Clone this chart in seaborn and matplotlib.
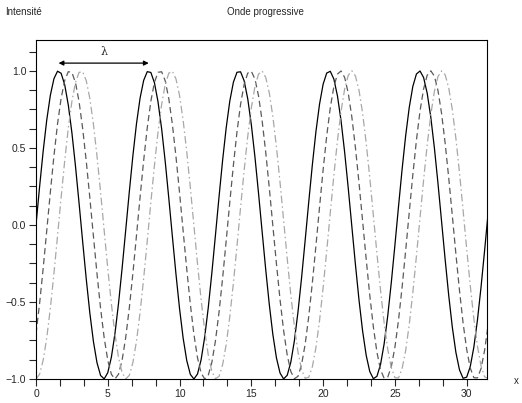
import numpy as np
import pandas as pd
import seaborn as sns
import matplotlib.pyplot as plt
from matplotlib.ticker import MultipleLocator

# wave parameters (phase shift of each curve, in radians)
phases = [0.0, np.pi / 4, np.pi / 2]
styles = ["solid", "dashed", "dashdot"]
colors = ["#000000", "#5a5a5a", "#a8a8a8"]
x_max = 10 * np.pi
step = 0.25

x_values = np.arange(0, x_max + step, step)
frames = []
for ph, st in zip(phases, styles):
    frames.append(pd.DataFrame({"x": x_values, "y": np.sin(x_values - ph), "serie": st}))
df = pd.concat(frames, ignore_index=True)

sns.set_style("ticks")
plt.rcParams["font.family"] = ["Liberation Sans", "DejaVu Sans"]

fig = plt.figure(figsize=(5.22, 4.03), dpi=100)
ax = fig.add_axes([36 / 522, 1 - 379 / 403, (487 - 36) / 522, (379 - 40) / 403])

dash_map = {"solid": (None, None), "dashed": (0, (5, 3)), "dashdot": (0, (6, 2.5, 1.2, 2.5))}
for st, col in zip(styles, colors):
    sub = df[df["serie"] == st]
    ls = "-" if st == "solid" else dash_map[st]
    sns.lineplot(data=sub, x="x", y="y", ax=ax, color=col, linewidth=0.9,
                 linestyle=ls, legend=False)

ax.set_xlim(0, x_max)
ax.set_ylim(-1.0, 1.2)
ax.xaxis.set_major_locator(MultipleLocator(5))
ax.xaxis.set_minor_locator(MultipleLocator(5 / 3))
ax.yaxis.set_major_locator(MultipleLocator(0.5))
ax.yaxis.set_minor_locator(MultipleLocator(0.125))
ax.set_yticks([-1.0, -0.5, 0.0, 0.5, 1.0])
ax.set_yticklabels(["\u22121.0", "\u22120.5", "0.0", "0.5", "1.0"])
ax.tick_params(which="both", length=5, width=0.8, labelsize=7.5, direction="out", pad=2)
for sp in ax.spines.values():
    sp.set_visible(True)
    sp.set_linewidth(0.8)
    sp.set_color("black")
ax.set_xlabel("")
ax.set_ylabel("")

# lambda arrow between two peaks
ax.annotate("", xy=(np.pi / 2, 1.05), xytext=(np.pi / 2 + 2 * np.pi, 1.05),
            arrowprops=dict(arrowstyle="<|-|>", color="black", lw=0.9,
                            mutation_scale=7, shrinkA=0, shrinkB=0))
ax.text(np.pi * 1.5, 1.09, "λ", ha="center", va="bottom", fontsize=8,
        family="DejaVu Serif")

fig.text(5 / 522, 1 - 12 / 403, "Intensité", fontsize=7, va="center", ha="left")
fig.text(265 / 522, 1 - 12 / 403, "Onde progressive", fontsize=7, va="center", ha="center")
fig.text(514 / 522, 1 - 381 / 403, "x", fontsize=7, va="center", ha="left")

fig.savefig("out.png", dpi=100)
